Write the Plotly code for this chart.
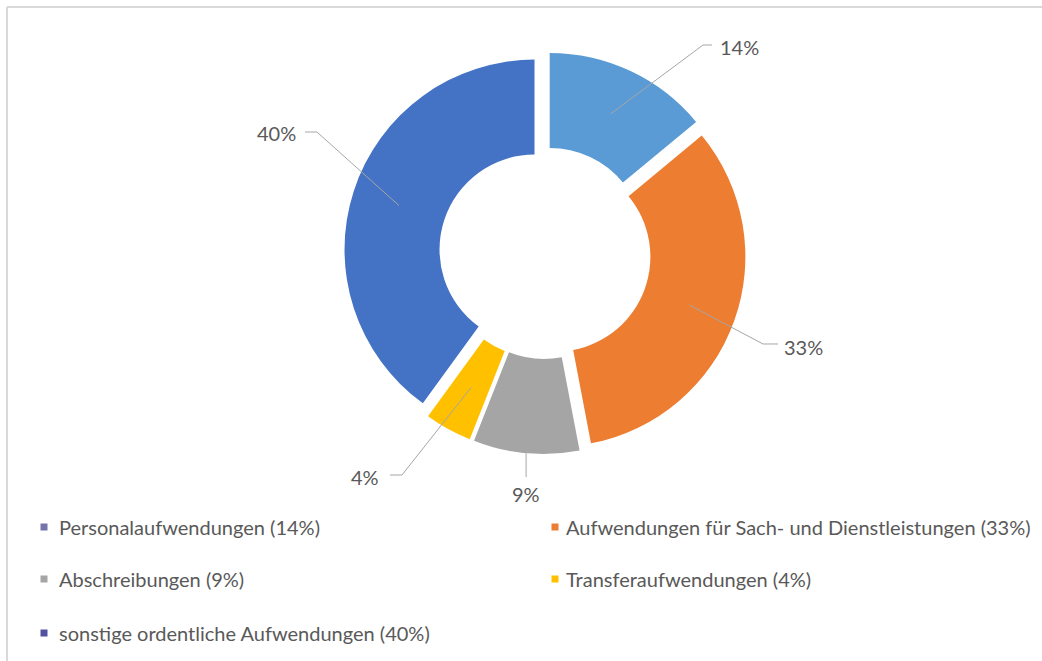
import math
import plotly.graph_objects as go

# ---------------- data ----------------
categories = [
    "Personalaufwendungen",
    "Aufwendungen für Sach- und Dienstleistungen",
    "Abschreibungen",
    "Transferaufwendungen",
    "sonstige ordentliche Aufwendungen",
]
shares = [14, 33, 9, 4, 40]
slice_colors = ["#5B9BD5", "#ED7D31", "#A5A5A5", "#FFC000", "#4472C4"]
legend_colors = ["#7474AA", "#ED7D31", "#A5A5A5", "#FFC000", "#5252A0"]

# ---------------- layout constants (pixels) ----------------
W, H = 1042, 661
CX, CY = 545, 253          # pie centre
R = 190                    # outer radius
PULL = 0.058
HOLE = 0.5
TEXT_COLOR = "#595959"
LINE_COLOR = "#A6A6A6"
FONT = "Lato"
FS = 20

# where each leader line starts (fraction of R from centre, before pull)
lead_start = [0.75, 0.75, 1.0, 0.75, 0.75]
# elbow / end points of leader lines and text anchors (pixels)
lead_elbow = [(703, 45), (763, 344), (None, 477), (402, 475), (317, 132)]
lead_end = [(712, 45), (778, 344), None, (390, 475), (305, 132)]
text_pos = [(718, 47, "left"), (782, 347, "left"), (None, 494, "center"),
            (381, 477, "right"), (298, 133, "right")]

# legend layout
leg_cols = [44, 555]
leg_text_cols = [57, 564]
leg_rows = [527, 579, 633]


def px(x):
    return x / W


def py(y):
    return 1 - y / H


S = R * (1 + PULL)
fig = go.Figure(
    go.Pie(
        labels=categories,
        values=shares,
        hole=HOLE,
        sort=False,
        direction="clockwise",
        rotation=0,
        pull=[PULL] * len(shares),
        marker=dict(colors=slice_colors, line=dict(width=0)),
        textinfo="none",
        hoverinfo="label+percent",
        showlegend=False,
        domain=dict(x=[px(CX - S), px(CX + S)], y=[py(CY + S), py(CY - S)]),
    )
)

shapes = []
annotations = []

# border of chart area
shapes.append(dict(type="line", xref="paper", yref="paper", x0=px(7), y0=py(7), x1=px(W + 5), y1=py(7),
                   line=dict(color="#D9D9D9", width=2)))
shapes.append(dict(type="line", xref="paper", yref="paper", x0=px(7), y0=py(7), x1=px(7), y1=py(H + 5),
                   line=dict(color="#D9D9D9", width=2)))

total = sum(shares)
cum = 0
for i, v in enumerate(shares):
    mid = (cum + v / 2) / total * 2 * math.pi
    cum += v
    dx, dy = math.sin(mid), -math.cos(mid)
    rad = lead_start[i] * R + PULL * R
    sx, sy = CX + rad * dx, CY + rad * dy
    ex, ey = lead_elbow[i]
    if ex is None:
        ex = sx
    pts = [(sx, sy), (ex, ey)]
    if lead_end[i] is not None:
        pts.append(lead_end[i])
    path = "M " + " L ".join(f"{px(a):.5f},{py(b):.5f}" for a, b in pts)
    shapes.append(dict(type="path", xref="paper", yref="paper", path=path,
                       line=dict(color=LINE_COLOR, width=1)))
    tx, ty, anc = text_pos[i]
    if tx is None:
        tx = sx
    annotations.append(dict(x=px(tx), y=py(ty), xref="paper", yref="paper",
                            text=f"{v}%", showarrow=False, xanchor=anc, yanchor="middle",
                            font=dict(family=FONT, size=FS, color=TEXT_COLOR)))

# custom legend (two columns)
for i, (name, v) in enumerate(zip(categories, shares)):
    row, col = divmod(i, 2)
    mx, my = leg_cols[col], leg_rows[row]
    shapes.append(dict(type="rect", xref="paper", yref="paper",
                       x0=px(mx - 3.5), x1=px(mx + 3.5), y0=py(my + 3.5), y1=py(my - 3.5),
                       fillcolor=legend_colors[i], line=dict(width=0)))
    annotations.append(dict(x=px(leg_text_cols[col]), y=py(my), xref="paper", yref="paper",
                            text=f"{name} ({v}%)", showarrow=False, xanchor="left", yanchor="middle",
                            font=dict(family=FONT, size=FS, color=TEXT_COLOR)))

fig.update_layout(
    width=W,
    height=H,
    margin=dict(l=0, r=0, t=0, b=0),
    paper_bgcolor="white",
    plot_bgcolor="white",
    shapes=shapes,
    annotations=annotations,
    font=dict(family=FONT, color=TEXT_COLOR),
)

fig.write_html("out.html", config={"displayModeBar": False},
               post_script="document.body.style.margin='0';")
